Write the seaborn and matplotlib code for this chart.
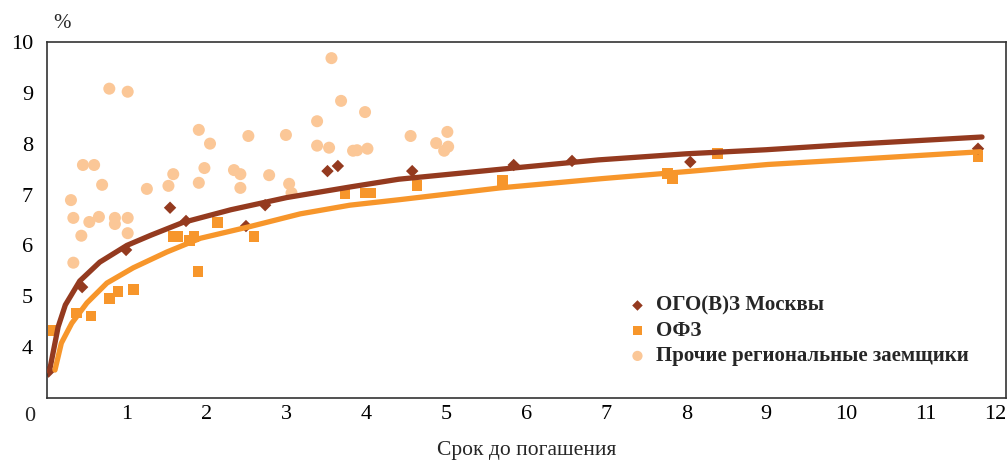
import numpy as np
import pandas as pd
import matplotlib
matplotlib.use("Agg")
import matplotlib.pyplot as plt
import seaborn as sns

# --- данные ---
# ОГО(В)З Москвы
msk_x = [0.02, 0.44, 0.99, 1.54, 1.74, 2.49, 2.73, 3.51, 3.64, 4.57, 5.84, 6.57, 8.05, 11.65]
msk_y = [3.52, 5.18, 5.91, 6.74, 6.48, 6.38, 6.79, 7.46, 7.56, 7.46, 7.58, 7.66, 7.64, 7.90]

# ОФЗ
ofz_x = [0.08, 0.37, 0.55, 0.78, 0.89, 1.08, 1.58, 1.63, 1.78, 1.84, 1.89, 2.13, 2.59,
         3.73, 3.99, 4.05, 4.63, 5.70, 7.76, 7.83, 8.39, 11.65]
ofz_y = [4.32, 4.67, 4.61, 4.95, 5.09, 5.14, 6.17, 6.17, 6.09, 6.17, 5.48, 6.45, 6.17,
         7.01, 7.03, 7.03, 7.17, 7.27, 7.42, 7.31, 7.80, 7.74]

# Прочие региональные заемщики
reg_x = [0.78, 1.01, 1.90, 2.04, 2.52, 0.45, 0.59, 0.69, 0.30, 1.25, 1.52, 1.58, 1.90,
         1.97, 2.34, 2.42, 2.42, 2.78, 0.33, 0.53, 0.65, 0.85, 0.85, 1.01, 1.01, 0.43,
         0.33, 3.56, 3.68, 3.98, 3.38, 2.99, 3.38, 3.53, 3.83, 3.88, 4.01, 4.55, 5.01,
         4.87, 5.02, 4.97, 3.03, 3.06]
reg_y = [9.08, 9.02, 8.27, 8.00, 8.15, 7.58, 7.58, 7.19, 6.89, 7.11, 7.17, 7.40, 7.23,
         7.52, 7.48, 7.40, 7.13, 7.38, 6.54, 6.46, 6.56, 6.54, 6.42, 6.54, 6.24, 6.19,
         5.66, 9.68, 8.84, 8.62, 8.44, 8.17, 7.96, 7.92, 7.86, 7.87, 7.90, 8.15, 8.23,
         8.01, 7.94, 7.86, 7.21, 7.03]

# кривые доходности
msk_curve_x = [0.03, 0.14, 0.23, 0.41, 0.66, 1.0, 1.3, 1.7, 2.3, 3.0, 3.8, 4.4, 5.7,
               6.9, 8.0, 9.0, 10.0, 11.7]
msk_curve_y = [3.52, 4.40, 4.83, 5.30, 5.67, 6.00, 6.20, 6.45, 6.70, 6.94, 7.15, 7.30,
               7.50, 7.68, 7.80, 7.88, 7.98, 8.13]
ofz_curve_x = [0.10, 0.18, 0.31, 0.50, 0.75, 1.08, 1.50, 1.92, 2.54, 3.17, 3.79, 4.42,
               5.67, 6.93, 8.00, 9.02, 10.0, 11.68]
ofz_curve_y = [3.55, 4.08, 4.47, 4.87, 5.26, 5.56, 5.87, 6.14, 6.37, 6.62, 6.79, 6.90,
               7.13, 7.31, 7.45, 7.59, 7.68, 7.84]

c_msk = "#943A1F"
c_ofz = "#F7962B"
c_reg = "#FBC797"

sns.set_style("white")
plt.rcParams["font.family"] = ["Liberation Serif", "DejaVu Serif"]

fig = plt.figure(figsize=(10.08, 4.65), dpi=100)
ax = fig.add_axes([0.0466, 0.144, 0.9514, 0.766])

sns.scatterplot(x=reg_x, y=reg_y, ax=ax, color=c_reg, marker="o", s=75,
                edgecolor="none", label="Прочие региональные заемщики", zorder=1)
sns.scatterplot(x=ofz_x, y=ofz_y, ax=ax, color=c_ofz, marker="s", s=60,
                edgecolor="none", label="ОФЗ", zorder=2)
sns.scatterplot(x=msk_x, y=msk_y, ax=ax, color=c_msk, marker="D", s=40,
                edgecolor="none", label="ОГО(В)З Москвы", zorder=2)

sns.lineplot(x=msk_curve_x, y=msk_curve_y, ax=ax, color=c_msk, linewidth=3.8,
             sort=False, zorder=3)
sns.lineplot(x=ofz_curve_x, y=ofz_curve_y, ax=ax, color=c_ofz, linewidth=3.8,
             sort=False, zorder=3)

ax.set_xlim(0, 12)
ax.set_ylim(3, 10)
ax.set_xticks(range(1, 13))
ax.set_yticks(range(4, 11))
ax.tick_params(direction="in", length=5, width=1, colors="#333333",
               labelsize=16, labelcolor="black")
ax.tick_params(axis="y", pad=10)
ax.tick_params(axis="x", pad=5)
for sp in ax.spines.values():
    sp.set_color("#333333")
    sp.set_linewidth(1.2)

# последняя подпись "12" прижата к правому краю, чтобы не обрезалась
ax.get_xticklabels()[-1].set_horizontalalignment("right")

ax.set_xlabel("Срок до погашения", fontsize=15.5, labelpad=12)
ax.set_ylabel("")
ax.text(-0.012, -0.025, "0", transform=ax.transAxes, fontsize=16,
        ha="right", va="top")
ax.text(0.016, 1.025, "%", transform=ax.transAxes, fontsize=15,
        ha="center", va="bottom")

handles, labels = ax.get_legend_handles_labels()
order = [2, 1, 0]
leg = ax.legend([handles[i] for i in order], [labels[i] for i in order],
                loc="upper left", bbox_to_anchor=(0.594, 0.31), frameon=False,
                handletextpad=0.3, labelspacing=0.25, borderaxespad=0,
                markerscale=0.85, handlelength=1.2,
                prop={"family": "Liberation Serif", "weight": "bold", "size": 15})

fig.savefig("out.png", dpi=100)
